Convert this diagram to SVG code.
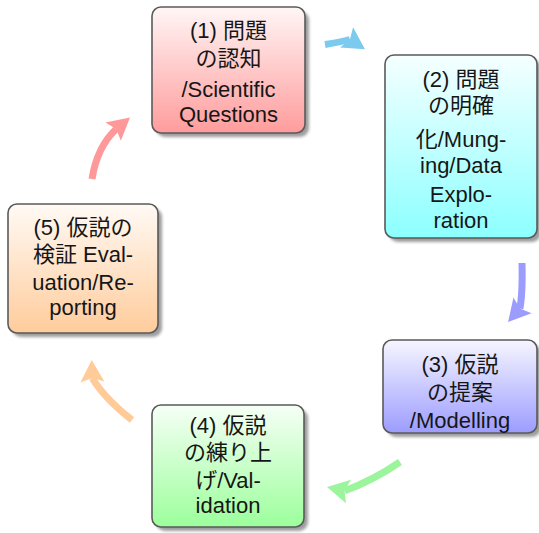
<svg xmlns="http://www.w3.org/2000/svg" width="539" height="533" viewBox="0 0 539 533">
  <style>
    .box { stroke: #5a5a5a; stroke-width: 1.6; }
    .shadow { fill: #000; opacity: 0.38; filter: url(#soft); }
    .label { font-family: "Liberation Sans", "Noto Sans CJK JP", sans-serif; font-size: 22px; fill: #161616; text-anchor: middle; }
    .arrow { fill: none; stroke-width: 7; stroke-linecap: butt; }
  </style>
  <defs>
    <filter id="soft" x="-10%" y="-10%" width="120%" height="120%">
      <feGaussianBlur stdDeviation="1.6"/>
    </filter>
    <linearGradient id="gRed" x1="0" y1="0" x2="0" y2="1">
      <stop offset="0" stop-color="#fff6f6"/>
      <stop offset="1" stop-color="#ff9c9c"/>
    </linearGradient>
    <linearGradient id="gCyan" x1="0" y1="0" x2="0" y2="1">
      <stop offset="0" stop-color="#f6ffff"/>
      <stop offset="1" stop-color="#8cffff"/>
    </linearGradient>
    <linearGradient id="gBlue" x1="0" y1="0" x2="0" y2="1">
      <stop offset="0" stop-color="#f6f6ff"/>
      <stop offset="1" stop-color="#9c9cff"/>
    </linearGradient>
    <linearGradient id="gGreen" x1="0" y1="0" x2="0" y2="1">
      <stop offset="0" stop-color="#f6fff6"/>
      <stop offset="1" stop-color="#9cff9c"/>
    </linearGradient>
    <linearGradient id="gOrange" x1="0" y1="0" x2="0" y2="1">
      <stop offset="0" stop-color="#fffaf5"/>
      <stop offset="1" stop-color="#ffcc9c"/>
    </linearGradient>
    <!-- arrowheads: tip 18 ahead of the line end, barbs 4 behind -->
    <marker id="hSky" markerUnits="userSpaceOnUse" orient="33" refX="0" refY="0" markerWidth="60" markerHeight="60" overflow="visible">
      <path d="M-4,-12 L18,0 L-4,12 L0,0 Z" fill="#7ccbee"/>
    </marker>
    <marker id="hBlue" markerUnits="userSpaceOnUse" orient="131" refX="0" refY="0" markerWidth="60" markerHeight="60" overflow="visible">
      <path d="M-4,-12 L18,0 L-4,12 L0,0 Z" fill="#9c9cff"/>
    </marker>
    <marker id="hGreen" markerUnits="userSpaceOnUse" orient="192" refX="0" refY="0" markerWidth="60" markerHeight="60" overflow="visible">
      <path d="M-4,-12 L18,0 L-4,12 L0,0 Z" fill="#9cf59c"/>
    </marker>
    <marker id="hOrange" markerUnits="userSpaceOnUse" orient="268" refX="0" refY="0" markerWidth="60" markerHeight="60" overflow="visible">
      <path d="M-4,-12 L18,0 L-4,12 L0,0 Z" fill="#ffcc99"/>
    </marker>
    <marker id="hRed" markerUnits="userSpaceOnUse" orient="-40" refX="0" refY="0" markerWidth="60" markerHeight="60" overflow="visible">
      <path d="M-4,-12 L18,0 L-4,12 L0,0 Z" fill="#ff9999"/>
    </marker>
  </defs>

  <g id="connectors">
    <path class="arrow" stroke="#7ccbee" d="M325,44.5 Q341,42 349.9,39.5" marker-end="url(#hSky)"/>
    <path class="arrow" stroke="#9c9cff" d="M522,263 C522.5,283 522,297 519.9,308.5" marker-end="url(#hBlue)"/>
    <path class="arrow" stroke="#9cf59c" d="M400,462 Q372,481 344.6,490.7" marker-end="url(#hGreen)"/>
    <path class="arrow" stroke="#ffcc99" d="M132,420 Q104,398 92.3,378" marker-end="url(#hOrange)"/>
    <path class="arrow" stroke="#ff9999" d="M92,179 Q97,147 116.2,129" marker-end="url(#hRed)"/>
  </g>

  <g id="node1">
    <rect class="shadow" x="156" y="11" width="153" height="126" rx="9"/>
    <rect class="box" x="152" y="7" width="153" height="126" rx="9" fill="url(#gRed)"/>
    <text class="label" x="228.5" y="38.3">(1) 問題</text>
    <text class="label" x="228.5" y="66">の認知</text>
    <text class="label" x="228.5" y="96.7">/Scientific</text>
    <text class="label" x="228.5" y="121.7">Questions</text>
  </g>

  <g id="node2">
    <rect class="shadow" x="389" y="59" width="152" height="183" rx="9"/>
    <rect class="box" x="385" y="55" width="152" height="183" rx="9" fill="url(#gCyan)"/>
    <text class="label" x="461" y="86.7">(2) 問題</text>
    <text class="label" x="461" y="113.3">の明確</text>
    <text class="label" x="461" y="146.7">化/Mung-</text>
    <text class="label" x="461" y="173.3">ing/Data</text>
    <text class="label" x="461" y="201.7">Explo-</text>
    <text class="label" x="461" y="228.3">ration</text>
  </g>

  <g id="node3">
    <rect class="shadow" x="387" y="344" width="154" height="93" rx="9"/>
    <rect class="box" x="383" y="340" width="154" height="93" rx="9" fill="url(#gBlue)"/>
    <text class="label" x="460" y="371.7">(3) 仮説</text>
    <text class="label" x="460" y="400">の提案</text>
    <text class="label" x="460" y="428">/Modelling</text>
  </g>

  <g id="node4">
    <rect class="shadow" x="156" y="409" width="152" height="122" rx="9"/>
    <rect class="box" x="152" y="405" width="152" height="122" rx="9" fill="url(#gGreen)"/>
    <text class="label" x="228" y="433.3">(4) 仮説</text>
    <text class="label" x="228" y="460">の練り上</text>
    <text class="label" x="228" y="488.3">げ/Val-</text>
    <text class="label" x="228" y="513.3">idation</text>
  </g>

  <g id="node5">
    <rect class="shadow" x="12" y="208" width="150" height="129" rx="9"/>
    <rect class="box" x="8" y="204" width="150" height="129" rx="9" fill="url(#gOrange)"/>
    <text class="label" x="83" y="235">(5) 仮説の</text>
    <text class="label" x="83" y="261.7">検証 Eval-</text>
    <text class="label" x="83" y="290">uation/Re-</text>
    <text class="label" x="83" y="315">porting</text>
  </g>
</svg>
